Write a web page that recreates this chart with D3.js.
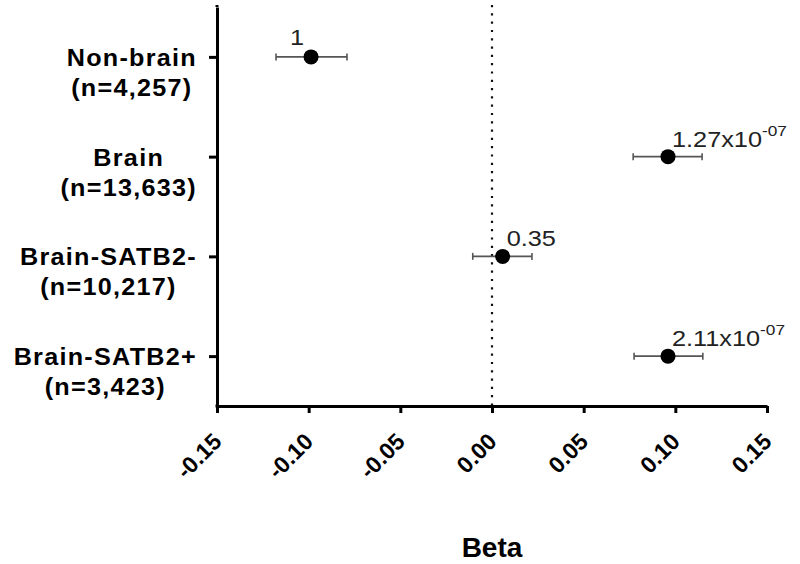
<!DOCTYPE html>
<html>
<head>
<meta charset="utf-8">
<script src="https://cdn.jsdelivr.net/npm/d3@7"></script>
<style>
  html, body { margin: 0; padding: 0; background: #fff; }
  svg { display: block; }
  text { font-family: Arial, "Liberation Sans", sans-serif; }
</style>
</head>
<body>
<svg id="chart" width="800" height="564"></svg>
<script>
const categories = ["Non-brain", "Brain", "Brain-SATB2-", "Brain-SATB2+"];
const sampleSizes = ["(n=4,257)", "(n=13,633)", "(n=10,217)", "(n=3,423)"];
const beta   = [-0.0987, 0.0960, 0.0058, 0.0960];
const ciLow  = [-0.1178, 0.0770, -0.0105, 0.0775];
const ciHigh = [-0.0791, 0.1146, 0.0218, 0.1150];
const pMantissa = ["1", "1.27", "0.35", "2.11"];
const pExponent = [null, "-07", null, "-07"];
const xTicks = [-0.15, -0.10, -0.05, 0.00, 0.05, 0.10, 0.15];
const xTickLabels = ["-0.15", "-0.10", "-0.05", "0.00", "0.05", "0.10", "0.15"];
const xTitle = "Beta";

const svg = d3.select("#chart");
const mLeft = 217, mRight = 767, mTop = 7, mBottom = 406;

const x = d3.scaleLinear().domain([-0.15, 0.15]).range([mLeft, mRight]);
const y = d3.scalePoint().domain(categories).range([mTop, mBottom]).padding(0.5);

// zero reference line (dotted)
svg.append("line")
  .attr("x1", x(0)).attr("x2", x(0))
  .attr("y1", 5).attr("y2", mBottom)
  .attr("stroke", "#111").attr("stroke-width", 2.2)
  .attr("stroke-dasharray", "2.2,6.1");

// y axis
const yAxis = svg.append("g")
  .attr("transform", `translate(${mLeft},0)`)
  .call(d3.axisLeft(y).tickSize(8).tickSizeOuter(0).tickFormat(""));
yAxis.select(".domain").attr("stroke", "#000").attr("stroke-width", 3);
yAxis.selectAll(".tick line").attr("stroke", "#000").attr("stroke-width", 3);
svg.append("line").attr("x1", mLeft).attr("x2", mLeft).attr("y1", 5).attr("y2", mTop)
  .attr("stroke", "#000").attr("stroke-width", 3);

// x axis
const xAxis = svg.append("g")
  .attr("transform", `translate(0,${mBottom})`)
  .call(d3.axisBottom(x).tickValues(xTicks).tickSize(7).tickSizeOuter(0).tickFormat(""));
xAxis.select(".domain").attr("stroke", "#000").attr("stroke-width", 3);
xAxis.selectAll(".tick line").attr("stroke", "#000").attr("stroke-width", 3);
svg.append("rect").attr("x", mLeft - 1.5).attr("y", mBottom - 1.5).attr("width", 3).attr("height", 3).attr("fill", "#000");

// x tick labels (rotated)
svg.append("g").selectAll("text")
  .data(xTicks)
  .join("text")
  .attr("transform", d => `translate(${x(d) + 6},${mBottom + 37}) rotate(-45)`)
  .attr("text-anchor", "end")
  .attr("font-size", 23)
  .attr("font-weight", "bold")
  .attr("fill", "#000")
  .text((d, i) => xTickLabels[i]);

// x title
svg.append("text")
  .attr("x", (mLeft + mRight) / 2)
  .attr("y", 557)
  .attr("text-anchor", "middle")
  .attr("font-size", 28)
  .attr("font-weight", "bold")
  .attr("fill", "#000")
  .text(xTitle);

// y labels (two centered lines, block right-aligned)
const labelRight = 197, sx = 1.05;
categories.forEach((c, i) => {
  const g = svg.append("g");
  const mk = (txt) => g.append("text").attr("x", 0).attr("y", 0)
    .attr("font-size", 24).attr("font-weight", "bold").attr("letter-spacing", "1.2px")
    .attr("text-anchor", "middle").attr("fill", "#000").text(txt);
  const t1 = mk(c), t2 = mk(sampleSizes[i]);
  const w = Math.max(t1.node().getBBox().width, t2.node().getBBox().width) * sx;
  const cx = labelRight - w / 2;
  t1.attr("transform", `translate(${cx},${y(c) + 9}) scale(${sx},1)`);
  t2.attr("transform", `translate(${cx},${y(c) + 39}) scale(${sx},1)`);
});

// error bars
const rows = categories.map((c, i) => ({c, b: beta[i], lo: ciLow[i], hi: ciHigh[i], pm: pMantissa[i], pe: pExponent[i]}));
const eg = svg.append("g");
eg.selectAll("line.ci").data(rows).join("line").attr("class", "ci")
  .attr("x1", d => x(d.lo)).attr("x2", d => x(d.hi))
  .attr("y1", d => y(d.c)).attr("y2", d => y(d.c))
  .attr("stroke", "#555").attr("stroke-width", 1.6);
eg.selectAll("line.capL").data(rows).join("line").attr("class", "capL")
  .attr("x1", d => x(d.lo)).attr("x2", d => x(d.lo))
  .attr("y1", d => y(d.c) - 3.5).attr("y2", d => y(d.c) + 3.5)
  .attr("stroke", "#555").attr("stroke-width", 1.6);
eg.selectAll("line.capH").data(rows).join("line").attr("class", "capH")
  .attr("x1", d => x(d.hi)).attr("x2", d => x(d.hi))
  .attr("y1", d => y(d.c) - 3.5).attr("y2", d => y(d.c) + 3.5)
  .attr("stroke", "#555").attr("stroke-width", 1.6);
eg.selectAll("circle").data(rows).join("circle")
  .attr("cx", d => x(d.b)).attr("cy", d => y(d.c)).attr("r", 7.5)
  .attr("fill", "#000");

// p-value labels
rows.forEach(d => {
  const neg = d.b < 0;
  const px = neg ? x(d.b) - 7 : x(d.b) + 4;
  const py = y(d.c) - (neg ? 12 : 10);
  const t = svg.append("text")
    .attr("transform", `translate(${px},${py}) scale(1.15,1)`)
    .attr("text-anchor", neg ? "end" : "start")
    .attr("font-size", 22)
    .attr("fill", "#222");
  if (d.pe) {
    t.append("tspan").text(d.pm + "x10");
    t.append("tspan").attr("dy", -11).attr("font-size", 15).text(d.pe);
  } else {
    t.text(d.pm);
  }
});
</script>
</body>
</html>
